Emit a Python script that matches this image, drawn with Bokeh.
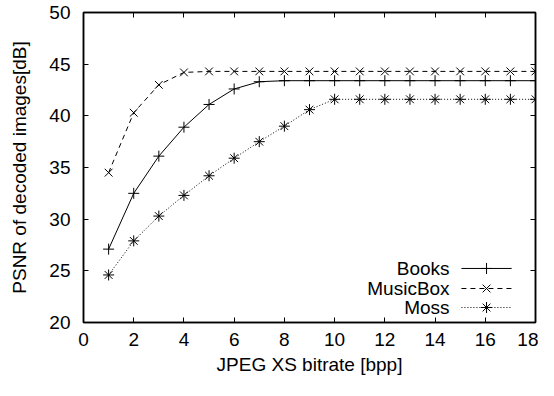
from bokeh.plotting import figure
from bokeh.models import LinearAxis, FixedTicker, Label, Range1d
from bokeh.embed import file_html
from bokeh.resources import INLINE

# ---- data ----
bitrate = [1, 2, 3, 4, 5, 6, 7, 8, 9, 10, 11, 12, 13, 14, 15, 16, 17, 18]
books = [27.1, 32.5, 36.1, 38.9, 41.1, 42.6, 43.3, 43.4, 43.4, 43.4, 43.4, 43.4,
         43.4, 43.4, 43.4, 43.4, 43.4, 43.4]
musicbox = [34.5, 40.3, 43.0, 44.2, 44.3, 44.3, 44.3, 44.3, 44.3, 44.3, 44.3, 44.3,
            44.3, 44.3, 44.3, 44.3, 44.3, 44.3]
moss = [24.6, 27.9, 30.3, 32.3, 34.2, 35.9, 37.5, 39.0, 40.6, 41.6, 41.6, 41.6,
        41.6, 41.6, 41.6, 41.6, 41.6, 41.6]
series_names = ["Books", "MusicBox", "Moss"]
x_ticks = [0, 2, 4, 6, 8, 10, 12, 14, 16, 18]
y_ticks = [20, 25, 30, 35, 40, 45, 50]

FONT = "Liberation Sans"
TICK_FS = "19px"
LAB_FS = "19px"

p = figure(width=538, height=380, output_backend="svg", toolbar_location=None,
           x_range=Range1d(0, 18), y_range=Range1d(20, 50),
           min_border_left=83, min_border_right=3, min_border_top=12, min_border_bottom=58)
p.xgrid.visible = False
p.ygrid.visible = False
p.outline_line_color = "black"
p.outline_line_width = 1.5
p.background_fill_color = "white"
p.border_fill_color = "white"


def style_axis(ax, show_labels=True):
    ax.major_tick_in = 5
    ax.major_tick_out = 0
    ax.minor_tick_in = 0
    ax.minor_tick_out = 0
    ax.axis_line_color = "black"
    ax.axis_line_width = 1.5
    ax.major_tick_line_color = "black"
    ax.major_tick_line_width = 1
    ax.major_label_text_font = FONT
    ax.major_label_text_font_size = TICK_FS
    ax.major_label_text_color = "black"
    ax.axis_label_text_font = FONT
    ax.axis_label_text_font_size = LAB_FS
    ax.axis_label_text_font_style = "normal"
    ax.axis_label_text_color = "black"
    if not show_labels:
        ax.major_label_text_font_size = "0px"
        ax.major_label_text_alpha = 0


p.xaxis.ticker = FixedTicker(ticks=x_ticks)
p.yaxis.ticker = FixedTicker(ticks=y_ticks)
p.xaxis.axis_label = "JPEG XS bitrate [bpp]"
p.yaxis.axis_label = "PSNR of decoded images[dB]"
style_axis(p.xaxis[0])
style_axis(p.yaxis[0])
p.xaxis.major_label_standoff = 10
p.yaxis.major_label_standoff = 13
p.xaxis.axis_label_standoff = 5
p.yaxis.axis_label_standoff = 16

top = LinearAxis(ticker=FixedTicker(ticks=x_ticks), major_label_overrides={t: "" for t in x_ticks})
right = LinearAxis(ticker=FixedTicker(ticks=y_ticks), major_label_overrides={t: "" for t in y_ticks})
style_axis(top, False)
style_axis(right, False)
p.add_layout(top, "above")
p.add_layout(right, "right")

# ---- series ----
styles = [
    (books, "solid", "cross"),
    (musicbox, "5 4", "x"),
    (moss, "1 2", "asterisk"),
]
for ys, dash, marker in styles:
    p.line(bitrate, ys, line_color="black", line_width=1, line_dash=dash)
    p.scatter(bitrate, ys, marker=marker, size=11, line_color="black",
              line_width=1, fill_color=None)

# ---- legend (manual, label left of sample) ----
leg_y = [25.23, 23.29, 21.45]
leg_x0, leg_x1, leg_xm, leg_xt = 15.05, 17.05, 16.05, 14.58
for (ys, dash, marker), name, ly in zip(styles, series_names, leg_y):
    p.line([leg_x0, leg_x1], [ly, ly], line_color="black", line_width=1, line_dash=dash)
    p.scatter([leg_xm], [ly], marker=marker, size=11, line_color="black", line_width=1)
    p.add_layout(Label(x=leg_xt, y=ly, text=name, text_align="right", text_baseline="middle",
                       text_font=FONT, text_font_size=LAB_FS, text_color="black"))

open("out.html", "w").write(file_html(p, INLINE))
